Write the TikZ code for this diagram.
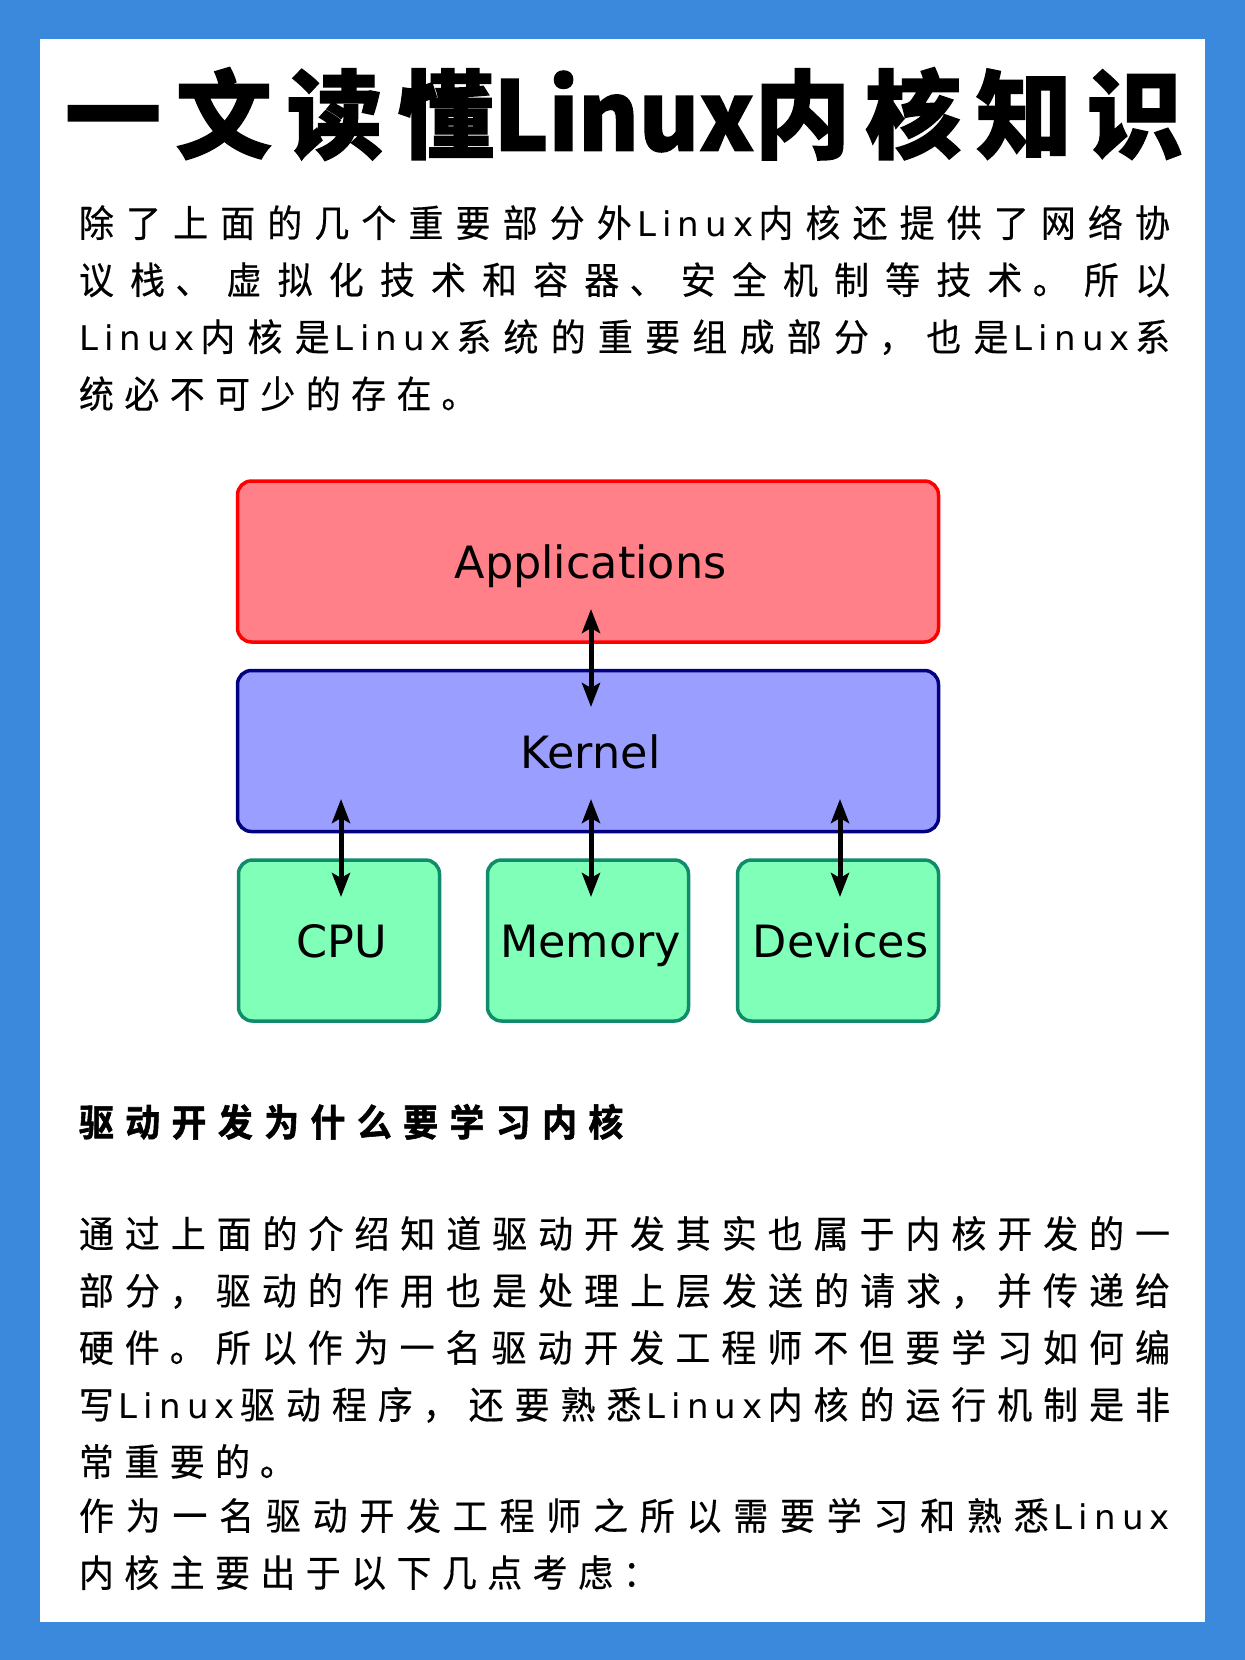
\documentclass[tikz,border=0pt]{standalone}
\usepackage{fontspec}
\usetikzlibrary{arrows.meta}
\setmainfont{DejaVu Sans}
\newfontfamily\hanfont[FakeStretch=0.93,FakeBold=0.4]{Noto Sans CJK SC}
\newfontfamily\hanboldfont[FakeStretch=0.93,LetterSpace=30.5,FakeBold=1.5]{Noto Sans CJK SC Bold}
\newfontfamily\latfont[LetterSpace=18]{DejaVu Sans}
\newfontfamily\headfont[LetterSpace=15.5,FakeBold=1.5]{Noto Sans CJK SC Black}
\newfontfamily\headlatfont[FakeStretch=0.96,FakeBold=1.5]{Noto Sans CJK SC Black}
\newcommand{\lx}{\hskip 5pt plus 5pt{\fontsize{34}{57}\selectfont\latfont Linux}\hskip 5pt plus 5pt\relax}
\newcommand{\pc}[1]{\hskip 10pt plus 3pt\relax #1}
\XeTeXlinebreaklocale "zh"
\XeTeXlinebreakskip=10.5pt plus 30pt
\tolerance=9999
\definecolor{pageblue}{HTML}{3B89DC}
\definecolor{appfill}{HTML}{FF8088}
\definecolor{kernfill}{HTML}{9A9EFF}
\definecolor{kernline}{HTML}{000080}
\definecolor{hwfill}{HTML}{80FFB8}
\definecolor{hwline}{HTML}{108C6C}
\tikzset{
    every node/.style={inner sep=0pt, outer sep=0pt},
    para/.style={anchor=north west, text width=1091pt, align=justify,
        font=\fontsize{37.5}{57}\selectfont\hanfont},
    block/.style={draw, rounded corners=14pt, line width=3.5pt, minimum height=161pt,
        text height=44pt, text depth=10pt, font=\fontsize{44.5}{50}\selectfont,
        execute at begin node=\hspace*{5pt}},
    link/.style={{Stealth[length=24pt,width=18pt,inset=5pt]}-{Stealth[length=24pt,width=18pt,inset=5pt]}, line width=5pt}
}

\begin{document}
\begin{tikzpicture}[x=1pt, y=-1pt]
  \fill [pageblue] (0,0) rectangle (1245,1660);
  \fill [white] (40,39) rectangle (1205,1622);

  \node (title) [font=\fontsize{96}{110}\selectfont\headfont] at (624,114) {一文读懂{\headlatfont Linux}内核知识};
  \node (intro) [para] at (79,205) {除了上面的几个重要部分外\lx 内核还提供了网络协\linebreak
    议栈\pc{、}虚拟化技术和容器\pc{、}安全机制等技术\pc{。}所以\linebreak
    \lx 内核是\lx 系统的重要组成部分\pc{，}也是\lx 系\linebreak
    统必不可少的存在\pc{。}};

  \node (apps) [block, fill=appfill, draw=red, minimum width=701pt] at (588,561.5) {Applications};
  \node (kern) [block, fill=kernfill, draw=kernline, minimum width=701pt] at (588,751) {Kernel};
  \node (cpu) [block, fill=hwfill, draw=hwline, minimum width=201pt] at (339,940.5) {CPU};
  \node (mem) [block, fill=hwfill, draw=hwline, minimum width=201pt] at (588,940.5) {Memory};
  \node (dev) [block, fill=hwfill, draw=hwline, minimum width=201pt] at (838,940.5) {Devices};

  \coordinate (a_top) at (591,609);
  \coordinate (a_bot) at (591,707);
  \coordinate (c_top) at (341,799);
  \coordinate (c_bot) at (341,897);
  \coordinate (m_top) at (591,799);
  \coordinate (m_bot) at (591,897);
  \coordinate (d_top) at (840,799);
  \coordinate (d_bot) at (840,897);
  \draw (a_top) edge [link] (a_bot);
  \draw (c_top) edge [link] (c_bot);
  \draw (m_top) edge [link] (m_bot);
  \draw (d_top) edge [link] (d_bot);

  \node (sub) [anchor=north west, font=\fontsize{37.5}{57}\selectfont\hanboldfont] at (79,1104) {驱动开发为什么要学习内核};
  \node (why) [para] at (79,1216) {通过上面的介绍知道驱动开发其实也属于内核开发的一\linebreak
    部分\pc{，}驱动的作用也是处理上层发送的请求\pc{，}并传递给\linebreak
    硬件\pc{。}所以作为一名驱动开发工程师不但要学习如何编\linebreak
    写\lx 驱动程序\pc{，}还要熟悉\lx 内核的运行机制是非\linebreak
    常重要的\pc{。}};
  \node (end) [para] at (79,1498) {作为一名驱动开发工程师之所以需要学习和熟悉\lx\linebreak
    内核主要出于以下几点考虑\pc{：}};
\end{tikzpicture}
\end{document}
